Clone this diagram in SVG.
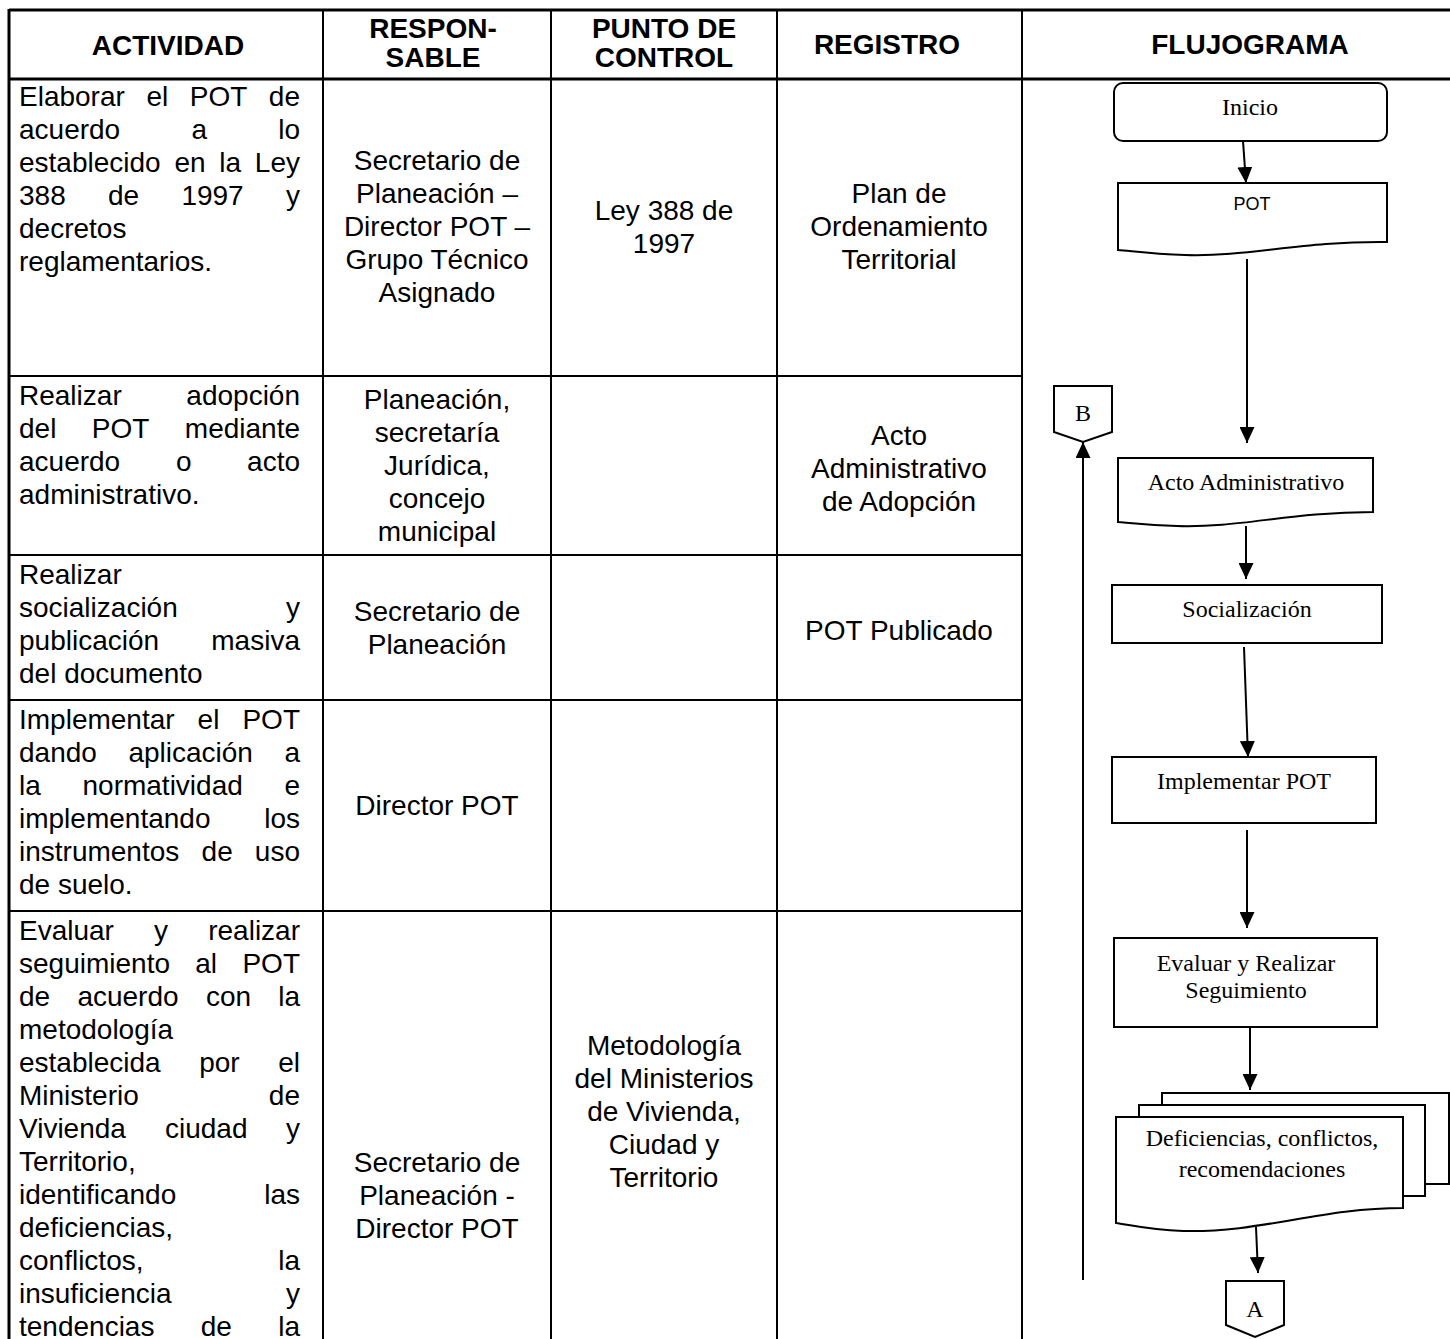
<svg xmlns="http://www.w3.org/2000/svg" width="1450" height="1339" viewBox="0 0 1450 1339">
<style>
.h{font-family:"Liberation Sans",Arial,sans-serif;font-size:28px;font-weight:bold;text-anchor:middle;fill:#000}
.t{font-family:"Liberation Sans",Arial,sans-serif;font-size:28px;fill:#000}
.c{text-anchor:middle}
.e{text-anchor:end}
.f{font-family:"Liberation Serif","Times New Roman",serif;font-size:24px;text-anchor:middle;fill:#000}
.fs{font-family:"Liberation Sans",Arial,sans-serif;font-size:18px;text-anchor:middle;fill:#000}
.shape{fill:#fff;stroke:#000;stroke-width:2}
.grid{stroke:#000;stroke-width:2;fill:none}
.thick{stroke:#000;stroke-width:3;fill:none}
.con{stroke:#000;stroke-width:2;fill:none;marker-end:url(#ah)}
</style>
<defs>
<marker id="ah" viewBox="0 0 16 15" refX="16" refY="7.5" markerWidth="16" markerHeight="15" orient="auto" markerUnits="userSpaceOnUse">
<path d="M0,0 L16,7.5 L0,15 Z" fill="#000"/>
</marker>
</defs>
<rect width="1450" height="1339" fill="#fff"/>
<g id="table">
<line class="thick" x1="9" y1="10" x2="1450" y2="10"/>
<line class="thick" x1="9" y1="79" x2="1450" y2="79"/>
<line class="thick" x1="9" y1="9" x2="9" y2="1339"/>
<line class="grid" x1="323" y1="10" x2="323" y2="1339"/>
<line class="grid" x1="551" y1="10" x2="551" y2="1339"/>
<line class="grid" x1="777" y1="10" x2="777" y2="1339"/>
<line class="grid" x1="1022" y1="10" x2="1022" y2="1339"/>
<line class="grid" x1="9" y1="376" x2="1022" y2="376"/>
<line class="grid" x1="9" y1="555" x2="1022" y2="555"/>
<line class="grid" x1="9" y1="700" x2="1022" y2="700"/>
<line class="grid" x1="9" y1="911" x2="1022" y2="911"/>
</g>
<g id="header">
<text class="h" x="168" y="55">ACTIVIDAD</text>
<text class="h" x="433" y="38">RESPON-</text>
<text class="h" x="433" y="67">SABLE</text>
<text class="h" x="664" y="38">PUNTO DE</text>
<text class="h" x="664" y="67">CONTROL</text>
<text class="h" x="887" y="54">REGISTRO</text>
<text class="h" x="1250" y="54">FLUJOGRAMA</text>
</g>
<g id="row1">
<text class="t"><tspan x="19" y="106">Elaborar</tspan><tspan x="146.4" y="106">el</tspan><tspan x="189.8" y="106">POT</tspan><tspan x="300" y="106" class="e">de</tspan></text>
<text class="t"><tspan x="19" y="139">acuerdo</tspan><tspan x="191.4" y="139">a</tspan><tspan x="300" y="139" class="e">lo</tspan></text>
<text class="t"><tspan x="19" y="172">establecido</tspan><tspan x="174.4" y="172">en</tspan><tspan x="219.3" y="172">la</tspan><tspan x="300" y="172" class="e">Ley</tspan></text>
<text class="t"><tspan x="19" y="205">388</tspan><tspan x="108" y="205">de</tspan><tspan x="181.4" y="205">1997</tspan><tspan x="300" y="205" class="e">y</tspan></text>
<text class="t" x="19" y="238">decretos</text>
<text class="t" x="19" y="271">reglamentarios.</text>
<text class="t c" x="437" y="170">Secretario de</text>
<text class="t c" x="437" y="203">Planeación –</text>
<text class="t c" x="437" y="236">Director POT –</text>
<text class="t c" x="437" y="269">Grupo Técnico</text>
<text class="t c" x="437" y="302">Asignado</text>
<text class="t c" x="664" y="220">Ley 388 de</text>
<text class="t c" x="664" y="253">1997</text>
<text class="t c" x="899" y="203">Plan de</text>
<text class="t c" x="899" y="236">Ordenamiento</text>
<text class="t c" x="899" y="269">Territorial</text>
</g>
<g id="row2">
<text class="t"><tspan x="19" y="405">Realizar</tspan><tspan x="300" y="405" class="e">adopción</tspan></text>
<text class="t"><tspan x="19" y="438">del</tspan><tspan x="91.8" y="438">POT</tspan><tspan x="300" y="438" class="e">mediante</tspan></text>
<text class="t"><tspan x="19" y="471">acuerdo</tspan><tspan x="175.9" y="471">o</tspan><tspan x="300" y="471" class="e">acto</tspan></text>
<text class="t" x="19" y="504">administrativo.</text>
<text class="t c" x="437" y="409">Planeación,</text>
<text class="t c" x="437" y="442">secretaría</text>
<text class="t c" x="437" y="475">Jurídica,</text>
<text class="t c" x="437" y="508">concejo</text>
<text class="t c" x="437" y="541">municipal</text>
<text class="t c" x="899" y="445">Acto</text>
<text class="t c" x="899" y="478">Administrativo</text>
<text class="t c" x="899" y="511">de Adopción</text>
</g>
<g id="row3">
<text class="t" x="19" y="584">Realizar</text>
<text class="t"><tspan x="19" y="617">socialización</tspan><tspan x="300" y="617" class="e">y</tspan></text>
<text class="t"><tspan x="19" y="650">publicación</tspan><tspan x="300" y="650" class="e">masiva</tspan></text>
<text class="t" x="19" y="683">del documento</text>
<text class="t c" x="437" y="621">Secretario de</text>
<text class="t c" x="437" y="654">Planeación</text>
<text class="t c" x="899" y="640">POT Publicado</text>
</g>
<g id="row4">
<text class="t"><tspan x="19" y="729">Implementar</tspan><tspan x="197.6" y="729">el</tspan><tspan x="300" y="729" class="e">POT</tspan></text>
<text class="t"><tspan x="19" y="762">dando</tspan><tspan x="128.4" y="762">aplicación</tspan><tspan x="300" y="762" class="e">a</tspan></text>
<text class="t"><tspan x="19" y="795">la</tspan><tspan x="82.5" y="795">normatividad</tspan><tspan x="300" y="795" class="e">e</tspan></text>
<text class="t"><tspan x="19" y="828">implementando</tspan><tspan x="300" y="828" class="e">los</tspan></text>
<text class="t"><tspan x="19" y="861">instrumentos</tspan><tspan x="201.6" y="861">de</tspan><tspan x="300" y="861" class="e">uso</tspan></text>
<text class="t" x="19" y="894">de suelo.</text>
<text class="t c" x="437" y="815">Director POT</text>
</g>
<g id="row5">
<text class="t"><tspan x="19" y="940">Evaluar</tspan><tspan x="154.1" y="940">y</tspan><tspan x="300" y="940" class="e">realizar</tspan></text>
<text class="t"><tspan x="19" y="973">seguimiento</tspan><tspan x="195.3" y="973">al</tspan><tspan x="300" y="973" class="e">POT</tspan></text>
<text class="t"><tspan x="19" y="1006">de</tspan><tspan x="77.4" y="1006">acuerdo</tspan><tspan x="205.9" y="1006">con</tspan><tspan x="300" y="1006" class="e">la</tspan></text>
<text class="t" x="19" y="1039">metodología</text>
<text class="t"><tspan x="19" y="1072">establecida</tspan><tspan x="199.2" y="1072">por</tspan><tspan x="300" y="1072" class="e">el</tspan></text>
<text class="t"><tspan x="19" y="1105">Ministerio</tspan><tspan x="300" y="1105" class="e">de</tspan></text>
<text class="t"><tspan x="19" y="1138">Vivienda</tspan><tspan x="165" y="1138">ciudad</tspan><tspan x="300" y="1138" class="e">y</tspan></text>
<text class="t" x="19" y="1171">Territorio,</text>
<text class="t"><tspan x="19" y="1204">identificando</tspan><tspan x="300" y="1204" class="e">las</tspan></text>
<text class="t" x="19" y="1237">deficiencias,</text>
<text class="t"><tspan x="19" y="1270">conflictos,</tspan><tspan x="300" y="1270" class="e">la</tspan></text>
<text class="t"><tspan x="19" y="1303">insuficiencia</tspan><tspan x="300" y="1303" class="e">y</tspan></text>
<text class="t"><tspan x="19" y="1336">tendencias</tspan><tspan x="200.8" y="1336">de</tspan><tspan x="300" y="1336" class="e">la</tspan></text>
<text class="t c" x="437" y="1172">Secretario de</text>
<text class="t c" x="437" y="1205">Planeación -</text>
<text class="t c" x="437" y="1238">Director POT</text>
<text class="t c" x="664" y="1055">Metodología</text>
<text class="t c" x="664" y="1088">del Ministerios</text>
<text class="t c" x="664" y="1121">de Vivienda,</text>
<text class="t c" x="664" y="1154">Ciudad y</text>
<text class="t c" x="664" y="1187">Territorio</text>
</g>
<g id="connectors">
<line class="con" x1="1243" y1="141" x2="1246" y2="183"/>
<line class="con" x1="1247" y1="259" x2="1247" y2="443"/>
<line class="con" x1="1246" y1="526" x2="1246" y2="579"/>
<line class="con" x1="1244" y1="647" x2="1248" y2="757"/>
<line class="con" x1="1247" y1="830" x2="1247" y2="928"/>
<line class="con" x1="1250" y1="1027" x2="1250" y2="1090"/>
<line class="con" x1="1256" y1="1227" x2="1258" y2="1273"/>
<line class="con" x1="1083" y1="1280" x2="1083" y2="442"/>
</g>
<g id="n-inicio">
<rect class="shape" x="1114" y="83" width="273" height="58" rx="9"/>
<text class="f" x="1250" y="115">Inicio</text>
</g>
<g id="n-pot">
<path class="shape" d="M1118,183 H1387 V242 C1300,241 1250,257 1185,255 C1150,254 1132,251 1118,250 Z"/>
<text class="fs" x="1252" y="210">POT</text>
</g>
<g id="n-acto">
<path class="shape" d="M1118,458 H1373 V512 C1290,512 1240,528 1177,526 C1145,525 1130,523 1118,522 Z"/>
<text class="f" x="1246" y="490">Acto Administrativo</text>
</g>
<g id="n-socializacion">
<rect class="shape" x="1112" y="585" width="270" height="58"/>
<text class="f" x="1247" y="617">Socialización</text>
</g>
<g id="n-implementar">
<rect class="shape" x="1112" y="757" width="264" height="66"/>
<text class="f" x="1244" y="789">Implementar POT</text>
</g>
<g id="n-evaluar">
<rect class="shape" x="1114" y="938" width="263" height="89"/>
<text class="f" x="1246" y="971">Evaluar y Realizar</text>
<text class="f" x="1246" y="998">Seguimiento</text>
</g>
<g id="n-deficiencias">
<rect class="shape" x="1162" y="1093" width="287" height="91"/>
<rect class="shape" x="1139" y="1105" width="286" height="91"/>
<path class="shape" d="M1116,1117 H1403 V1208 C1320,1208 1260,1233 1183,1231 C1150,1230 1130,1225 1116,1223 Z"/>
<text class="f" x="1262" y="1146">Deficiencias, conflictos,</text>
<text class="f" x="1262" y="1177">recomendaciones</text>
</g>
<g id="n-a">
<path class="shape" d="M1226,1281 H1284 V1325 L1255,1337 L1226,1325 Z"/>
<text class="f" x="1255" y="1317">A</text>
</g>
<g id="n-b">
<path class="shape" d="M1054,386 H1112 V432 L1083,442 L1054,432 Z"/>
<text class="f" x="1083" y="421">B</text>
</g>
</svg>
